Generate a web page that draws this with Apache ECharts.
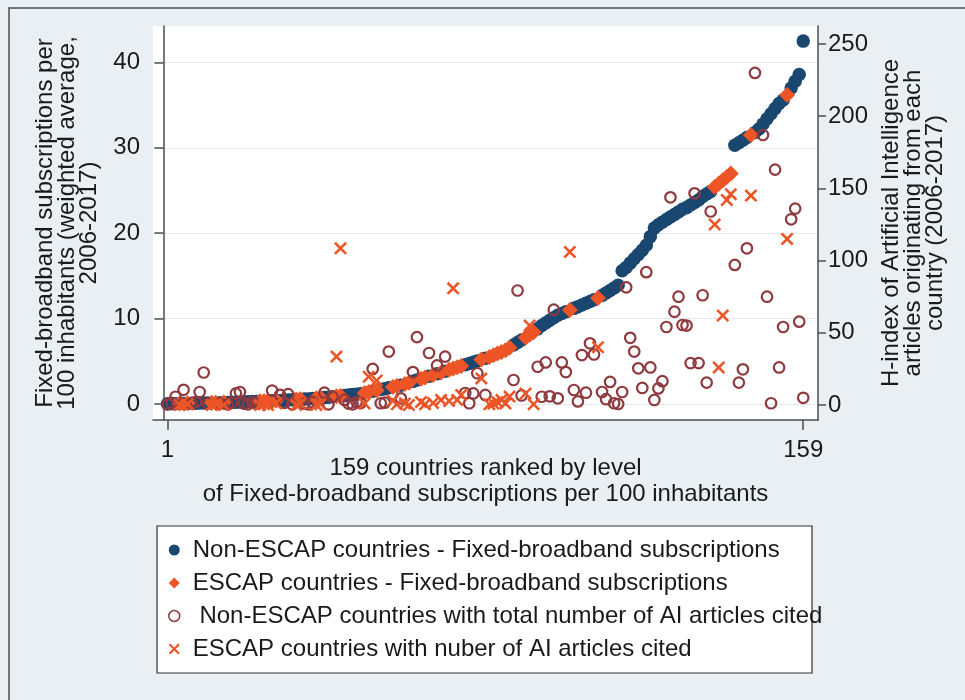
<!DOCTYPE html>
<html>
<head>
<meta charset="utf-8">
<script src="https://cdn.jsdelivr.net/npm/echarts@6/dist/echarts.min.js"></script>
<style>
  html, body { margin: 0; padding: 0; background: #e9eff2; }
  #chart { width: 965px; height: 700px; }
</style>
</head>
<body>
<div id="chart"></div>
<script>
// Fixed-broadband subscriptions per 100 inhabitants, countries ranked 1..159
const broadband = [
  0.02, 0.03, 0.04, 0.05, 0.06, 0.08, 0.09, 0.10, 0.11, 0.12,
  0.13, 0.14, 0.15, 0.16, 0.18, 0.19, 0.20, 0.21, 0.22, 0.24,
  0.26, 0.28, 0.30, 0.31, 0.33, 0.35, 0.38, 0.40, 0.42, 0.45,
  0.48, 0.50, 0.52, 0.55, 0.58, 0.60, 0.64, 0.68, 0.72, 0.76,
  0.80, 0.85, 0.90, 0.95, 1.00, 1.05, 1.10, 1.15, 1.20, 1.30,
  1.40, 1.50, 1.60, 1.70, 1.80, 1.90, 2.00, 2.10, 2.20, 2.35,
  2.50, 2.65, 2.80, 2.95, 3.10, 3.25, 3.40, 3.55, 3.70, 3.85,
  4.00, 4.15, 4.30, 4.45, 4.60, 4.75, 4.90, 5.05, 5.20, 5.35,
  5.50, 5.70, 5.90, 6.10, 6.30, 6.60, 6.90, 7.20, 7.50, 7.80,
  8.10, 8.40, 8.80, 9.20, 9.50, 9.80, 10.10, 10.40, 10.60, 10.80,
  11.00, 11.20, 11.40, 11.60, 11.80, 12.00, 12.20, 12.40, 12.70, 13.00,
  13.30, 13.60, 13.90,
  15.60, 16.00, 16.50, 17.00, 17.50, 18.00, 18.60, 19.60,
  20.60, 21.00, 21.30, 21.60, 21.90, 22.20, 22.50, 22.80, 23.00, 23.30,
  23.60, 23.90, 24.30, 24.60, 24.90,
  25.40, 25.80, 26.20, 26.60, 27.00,
  30.30, 30.60, 30.90, 31.20, 31.50, 31.80, 32.20, 32.80, 33.40, 34.00,
  34.60, 35.20, 35.60, 36.20, 37.00, 37.80, 38.60, 42.50
];

// H-index of AI articles for the country at each rank (null = no value)
const hIndex = [
  0.5, 1.5, 5.7, 0, 10.5, 0.5, 1, 2, 9, 22.5,
  1, 0, 0.5, 1, 0, 0.5, 1.5, 8, 9, 1,
  0.5, 2, 1, 0, 0.5, 0, 10, 1, 7, 1.5,
  7.5, 0.5, 0, 1, 1, 0.5, 2, 0, 0.5, 8.5,
  0.5, 5.7, 33.5, 108.5, 3.5, 1, 0.5, 2, 1.3, 1,
  19.6, 25, 17, 1.2, 1.6, 37, 3, 0.5, 4.6, 1,
  0, 22.8, 47, 2, 0.5, 36, 1.4, 27.4, 3.5, 33.5,
  2.8, 80.8, 3.5, 7, 8.3, 1.2, 8, 22, 18.4, 7,
  0.5, 1, 2, 3.5, 1, 5.8, 17.3, 79.3, 6.6, 8,
  55, 0.5, 26.5, 5.7, 29.5, 6, 66, 4.6, 29.5, 22.8,
  106, 10.4, 2.5, 34.6, 8.5, 42.7, 35, 40, 9, 4,
  16, 1.2, 0.7, 9, 81.5, 46.5, 37, 25.4, 11.8, 92,
  26, 3.5, 11.5, 16.5, 54, 143.8, 64.6, 75, 55.4, 55,
  29, 146.6, 29, 76, 15.5, 134, 125, 26, 62, 142,
  146, 97, 15.5, 24.7, 108.5, 145, 230, null, 187, 75,
  1.2, 163, 26, 54, 115, 128.6, 136, 57.7, 5
];

// Ranks of ESCAP member countries
const escapRanks = [
  4, 6, 12, 13, 15, 24, 25, 26, 28, 33, 34, 38, 39, 43, 44, 50, 51, 53,
  57, 58, 60, 61, 64, 65, 67, 69, 71, 72, 73, 74, 79, 81, 82, 83, 84, 85, 86,
  90, 91, 92, 101, 108, 137, 138, 139, 140, 141, 146, 155
];

const leftTicks = [0, 10, 20, 30, 40];
const rightTicks = [0, 50, 100, 150, 200, 250];
const rankTicks = [1, 159];

const seriesNames = [
  'Non-ESCAP countries - Fixed-broadband subscriptions',
  'ESCAP countries - Fixed-broadband subscriptions',
  ' Non-ESCAP countries with total number of AI articles cited',
  'ESCAP countries with nuber of AI articles cited'
];

const NAVY = '#1a476f';
const ORANGE = '#ee5526';
const MAROON = '#8e3a3f';
const FONT = "'Liberation Sans', Arial, Helvetica, sans-serif";
const CROSS = 'path://M0,1.4L1.4,0L5,3.6L8.6,0L10,1.4L6.4,5L10,8.6L8.6,10L5,6.4L1.4,10L0,8.6L3.6,5Z';

const isEscap = new Set(escapRanks);
const bbNon = [], bbEscap = [], hNon = [], hEscap = [];
broadband.forEach((v, i) => {
  const rank = i + 1;
  const h = hIndex[i];
  if (isEscap.has(rank)) {
    bbEscap.push([rank, v]);
    if (h !== null) hEscap.push([rank, h]);
  } else {
    bbNon.push([rank, v]);
    if (h !== null) hNon.push([rank, h]);
  }
});

const chart = echarts.init(document.getElementById('chart'), null, { renderer: 'canvas' });

const axisLineStyle = { color: '#4d4d4d', width: 1.5 };
const labelStyle = { color: '#1a1a1a', fontSize: 24, fontFamily: FONT };

chart.setOption({
  animation: false,
  backgroundColor: '#e9eff2',
  textStyle: { fontFamily: FONT },
  graphic: [
    {
      type: 'rect', z: -10, silent: true,
      shape: { x: 9, y: 8, width: 990, height: 720 },
      style: { fill: 'none', stroke: '#4d4d4d', lineWidth: 1.5 }
    },
    {
      type: 'rect', z: 0, silent: true,
      shape: { x: 157, y: 526, width: 655, height: 147 },
      style: { fill: '#ffffff', stroke: '#333333', lineWidth: 1.2 }
    }
  ],
  grid: {
    left: 153, right: 965 - 818, top: 26, bottom: 700 - 420,
    show: true, backgroundColor: '#ffffff', borderWidth: 0
  },
  legend: {
    orient: 'vertical',
    left: 168, top: 538,
    padding: 0,
    itemGap: 9,
    itemWidth: 11, itemHeight: 11,
    selectedMode: false,
    textStyle: { color: '#1a1a1a', fontSize: 24, fontFamily: FONT, lineHeight: 22, padding: [0, 0, 0, 8] },
    data: [
      { name: seriesNames[0], icon: 'circle', itemStyle: { color: NAVY } },
      { name: seriesNames[1], icon: 'diamond', itemStyle: { color: ORANGE } },
      { name: seriesNames[2], icon: 'circle',
        itemStyle: { color: 'rgba(0,0,0,0)', borderColor: MAROON, borderWidth: 1.5 } },
      { name: seriesNames[3], icon: CROSS, itemStyle: { color: ORANGE } }
    ]
  },
  xAxis: {
    type: 'value',
    min: -2.6, max: 162.67,
    name: '159 countries ranked by level\nof Fixed-broadband subscriptions per 100 inhabitants',
    nameLocation: 'middle',
    nameGap: 35,
    nameMoveOverlap: false,
    nameTextStyle: { color: '#1a1a1a', fontSize: 24, fontFamily: FONT, lineHeight: 26 },
    axisLine: { show: true, onZero: false, lineStyle: axisLineStyle },
    axisTick: { show: true, length: 10, customValues: rankTicks, lineStyle: axisLineStyle },
    axisLabel: { ...labelStyle, margin: 18, customValues: rankTicks },
    splitLine: { show: false }
  },
  yAxis: [
    {
      type: 'value',
      position: 'left',
      min: -1.874, max: 44.27,
      name: 'Fixed-broadband subscriptions per\n100 inhabitants (weighted average,\n2006-2017)',
      nameLocation: 'middle',
      nameRotate: 90,
      nameGap: 53,
      nameMoveOverlap: false,
      nameTextStyle: { color: '#1a1a1a', fontSize: 24, fontFamily: FONT, lineHeight: 22 },
      axisLine: { show: true, lineStyle: axisLineStyle },
      axisTick: { show: true, length: 9, customValues: leftTicks, lineStyle: axisLineStyle },
      axisLabel: { ...labelStyle, margin: 13, customValues: leftTicks },
      splitLine: { show: true, lineStyle: { color: '#e3e8eb', width: 1.2 } }
    },
    {
      type: 'value',
      position: 'right',
      min: -10.39, max: 262.47,
      name: 'H-index of Artificial Intelligence\narticles originating from each\ncountry (2006-2017)',
      nameLocation: 'middle',
      nameRotate: 90,
      nameGap: 62,
      nameMoveOverlap: false,
      nameTextStyle: { color: '#1a1a1a', fontSize: 24, fontFamily: FONT, lineHeight: 22 },
      axisLine: { show: true, lineStyle: axisLineStyle },
      axisTick: { show: true, length: 8, customValues: rightTicks, lineStyle: axisLineStyle },
      axisLabel: { ...labelStyle, margin: 10, customValues: rightTicks },
      splitLine: { show: false }
    }
  ],
  series: [
    {
      name: seriesNames[0], type: 'scatter', yAxisIndex: 0,
      symbol: 'circle', symbolSize: 13.5,
      itemStyle: { color: NAVY, opacity: 1 },
      data: bbNon
    },
    {
      name: seriesNames[1], type: 'scatter', yAxisIndex: 0,
      symbol: 'diamond', symbolSize: 16,
      itemStyle: { color: ORANGE, opacity: 1 },
      data: bbEscap
    },
    {
      name: seriesNames[2], type: 'scatter', yAxisIndex: 1,
      symbol: 'circle', symbolSize: 10.5,
      itemStyle: { color: 'rgba(0,0,0,0)', borderColor: MAROON, borderWidth: 2.2, opacity: 1 },
      data: hNon
    },
    {
      name: seriesNames[3], type: 'scatter', yAxisIndex: 1,
      symbol: CROSS, symbolSize: 13,
      itemStyle: { color: ORANGE, opacity: 1 },
      data: hEscap
    }
  ]
});
</script>
</body>
</html>
